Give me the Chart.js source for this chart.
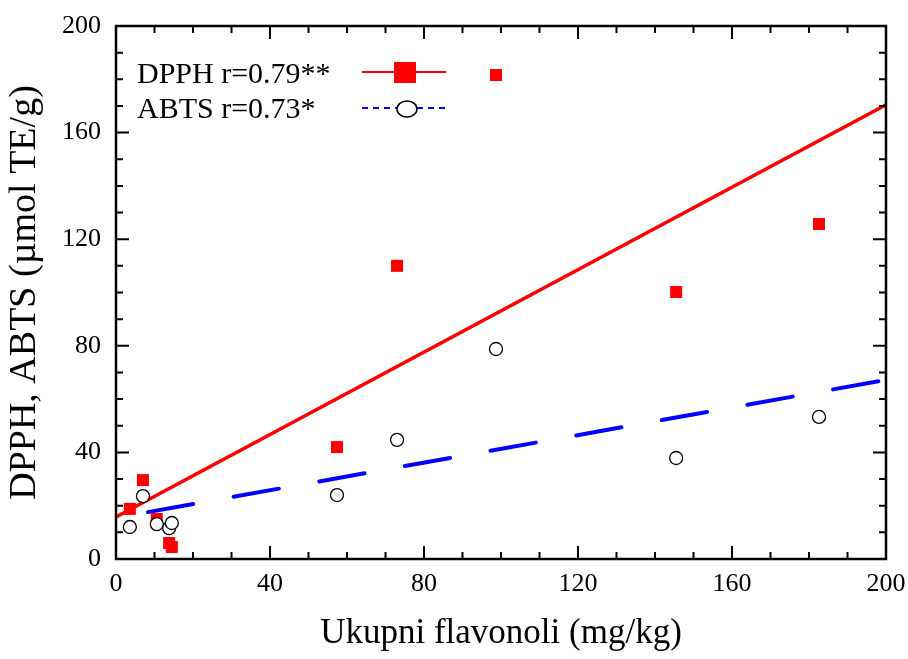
<!DOCTYPE html>
<html>
<head>
<meta charset="utf-8">
<script src="https://cdn.jsdelivr.net/npm/chart.js@4"></script>
<style>
  html, body { margin: 0; padding: 0; background: #fff; }
  #wrap { width: 908px; height: 659px; }
</style>
</head>
<body>
<div id="wrap"><canvas id="chart" width="908" height="659"></canvas></div>
<script>
// DPPH (red squares) and ABTS (open circles) vs total flavonols
const dpphX = [3.6, 7.0, 10.6, 13.8, 14.5, 57.4, 73.0, 98.7, 145.5, 182.6];
const dpphY = [18.8, 29.6, 15.0, 6.0, 4.5, 42.0, 110.0, 181.6, 100.2, 125.7];
const abtsX = [3.6, 7.0, 10.6, 13.8, 14.5, 57.4, 73.0, 98.7, 145.5, 182.6];
const abtsY = [12.0, 23.6, 13.1, 11.6, 13.5, 24.0, 44.7, 78.8, 37.9, 53.3];

// regression line end points
const dpphFitX = [0, 200];
const dpphFitY = [15.8, 170.4];
const abtsFitX = [8.3, 200];
const abtsFitY = [17.6, 67.2];

const xTicks = [0, 40, 80, 120, 160, 200];
const yTicks = [0, 40, 80, 120, 160, 200];

const legendLabels = ["DPPH r=0.79**", "ABTS r=0.73*"];

const FONT = "'Liberation Serif', 'Times New Roman', serif";

const toPoints = (xs, ys) => xs.map((x, i) => ({ x: x, y: ys[i] }));

// frame, inward ticks on all four sides, legend
const framePlugin = {
  id: "frame",
  afterDraw(chart) {
    const { ctx, chartArea: a, scales } = chart;
    const xs = scales.x, ys = scales.y;
    ctx.save();
    ctx.strokeStyle = "#000";
    ctx.lineWidth = 2;
    for (let v = 0; v <= 200; v += 10) {
      const len = v % 40 === 0 ? 13 : 7;
      const px = xs.getPixelForValue(v);
      ctx.beginPath();
      ctx.moveTo(px, a.bottom); ctx.lineTo(px, a.bottom - len);
      ctx.moveTo(px, a.top); ctx.lineTo(px, a.top + len);
      ctx.stroke();
      const py = ys.getPixelForValue(v);
      ctx.beginPath();
      ctx.moveTo(a.left, py); ctx.lineTo(a.left + len, py);
      ctx.moveTo(a.right, py); ctx.lineTo(a.right - len, py);
      ctx.stroke();
    }
    ctx.lineWidth = 2.5;
    ctx.strokeRect(a.left, a.top, a.right - a.left, a.bottom - a.top);

    // legend
    ctx.fillStyle = "#000";
    ctx.font = "30px " + FONT;
    ctx.textBaseline = "alphabetic";
    ctx.textAlign = "left";
    ctx.fillText(legendLabels[0], 137, 83);
    ctx.fillText(legendLabels[1], 137, 118);

    ctx.strokeStyle = "#ff0000";
    ctx.lineWidth = 2;
    ctx.beginPath(); ctx.moveTo(362, 72); ctx.lineTo(446, 72); ctx.stroke();
    ctx.fillStyle = "#ff0000";
    ctx.fillRect(394, 62, 22, 21);

    ctx.strokeStyle = "#0000ff";
    ctx.setLineDash([6, 5]);
    ctx.beginPath(); ctx.moveTo(362, 108); ctx.lineTo(448, 108); ctx.stroke();
    ctx.setLineDash([]);
    ctx.strokeStyle = "#000";
    ctx.lineWidth = 1.5;
    ctx.fillStyle = "#fff";
    ctx.beginPath(); ctx.ellipse(407, 109, 10, 8, 0, 0, Math.PI * 2);
    ctx.fill(); ctx.stroke();
    ctx.restore();
  }
};

new Chart(document.getElementById("chart"), {
  type: "scatter",
  data: {
    datasets: [
      {
        label: "ABTS",
        data: toPoints(abtsX, abtsY),
        pointStyle: "circle",
        pointRadius: 6.5,
        pointBorderWidth: 1.3,
        pointBorderColor: "#000",
        pointBackgroundColor: "#fff",
        order: 1
      },
      {
        label: "DPPH",
        data: toPoints(dpphX, dpphY),
        pointStyle: "rect",
        pointRadius: 8.5,
        pointBorderWidth: 0,
        pointBackgroundColor: "#ff0000",
        pointBorderColor: "#ff0000",
        order: 2
      },
      {
        label: "DPPH fit",
        data: toPoints(dpphFitX, dpphFitY),
        showLine: true,
        borderColor: "#ff0000",
        borderWidth: 3.5,
        pointRadius: 0,
        order: 3
      },
      {
        label: "ABTS fit",
        data: toPoints(abtsFitX, abtsFitY),
        showLine: true,
        borderColor: "#0000ff",
        borderWidth: 4,
        borderDash: [46, 41],
        borderCapStyle: "round",
        pointRadius: 0,
        order: 4
      }
    ]
  },
  options: {
    responsive: false,
    animation: false,
    layout: { padding: { top: 26, right: 22, left: 0, bottom: 0 } },
    plugins: { legend: { display: false }, tooltip: { enabled: false } },
    scales: {
      x: {
        type: "linear",
        min: 0, max: 200,
        afterBuildTicks: (s) => { s.ticks = xTicks.map(v => ({ value: v })); },
        afterFit: (s) => { s.height = 100; s.paddingLeft = 0; s.paddingRight = 0; },
        grid: { display: false, drawTicks: false },
        border: { display: false },
        ticks: { color: "#000", font: { family: FONT, size: 26 }, padding: 10, maxRotation: 0 },
        title: { display: true, text: "Ukupni flavonoli (mg/kg)", color: "#000",
                 font: { family: FONT, size: 35 }, padding: { top: 10 } }
      },
      y: {
        type: "linear",
        min: 0, max: 200,
        afterBuildTicks: (s) => { s.ticks = yTicks.map(v => ({ value: v })); },
        afterFit: (s) => { s.width = 116; s.paddingTop = 0; s.paddingBottom = 0; },
        grid: { display: false, drawTicks: false },
        border: { display: false },
        ticks: { color: "#000", font: { family: FONT, size: 26 }, padding: 15 },
        title: { display: true, text: "DPPH, ABTS (µmol TE/g)", color: "#000",
                 font: { family: FONT, size: 38 }, padding: { top: 2, bottom: 0 } }
      }
    }
  },
  plugins: [framePlugin]
});
</script>
</body>
</html>
